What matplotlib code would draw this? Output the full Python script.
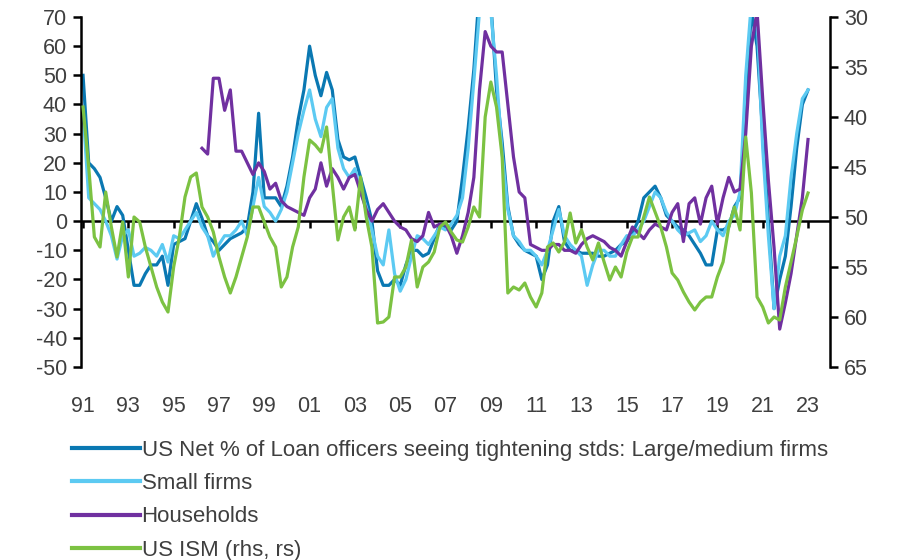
import numpy as np
import matplotlib.pyplot as plt

plt.rcParams['font.family'] = ['Liberation Sans', 'DejaVu Sans']
plt.rcParams['axes.unicode_minus'] = False

# quarterly, 1991Q1 .. 2023Q1
years = 1991 + np.arange(129) / 4

large = [50, 20, 18, 15,  8, 0, 5, 2,  -10, -22, -22, -18,  -15, -15, -12, -22,
         -8, -7, -6, 0,  6, 1, -5, -7,  -10, -8, -6, -5,  -4, -2, 10, 37,
         8, 8, 8, 5,  12, 22, 35, 45,  60, 50, 43, 51,  45, 28, 22, 21,
         22, 15, 8, 0,  -17, -22, -22, -20,  -22, -15, -10, -10,  -12, -11, -6, -1,
         -2, -3, 0, 15,  32, 52, 80, 84,  75, 45, 27, 5,  -5, -8, -10, -11,
         -12, -20, -15, 0,  5, -7, -10, -10,  -11, -11, -11, -12,  -12, -11, -10, -8,
         -7, -4, 0, 8,  10, 12, 8, 2,  0, -2, -3, -5,  -8, -11, -15, -15,
         -3, -3, -2, 5,  8, 40, 72, 60,  30, 0, -30, -20,  -12, 5, 25, 40,  45]

small = [38, 8, 6, 4,  0, -5, -13, -5,  -3, -12, -11, -9,  -10, -12, -8, -14,
         -5, -6, -3, 0,  3, -2, -5, -12,  -8, -5, -5, -3,  0, -5, 5, 15,
         5, 3, 0, 4,  10, 20, 30, 38,  45, 35, 29, 39,  42, 25, 18, 15,
         18, 10, 5, -3,  -12, -15, -3, -18,  -24, -20, -12, -5,  -6, -8, -5, -2,
         -3, -1, 2, 8,  25, 48, 72, 75,  72, 50, 23, 4,  -5, -7, -10, -10,
         -12, -15, -10, -3,  4, -5, -8, -10,  -12, -22, -15, -10,  -10, -12, -12, -8,
         -5, -5, -3, 0,  5, 10, 8, 3,  0, -3, -5, -4,  -3, -7, -5, 0,
         -3, -5, 0, 2,  10, 50, 75, 70,  25, -5, -30, -12,  -5, 15, 30, 42,  45]

# households series starts 1996Q2
households = [np.nan] * 21 + [
    25, 23, 49,  49, 38, 45, 24,  24, 20, 16, 20,  17, 11, 13, 7,  5, 4, 3, 2,
    8, 11, 20, 12,  18, 15, 11, 15,  16, 10, 4, 0,  4, 6, 3, 0,  -2, -3, -6, -7,
    -5, 3, -2, -1,  -1, -5, -11, -5,  3, 15, 45, 65,  60, 58, 58, 40,  22, 10, 8, -8,
    -9, -10, -10, -8,  -8, -10, -10, -11,  -8, -6, -5, -6,  -7, -9, -10, -12,
    -7, -2, -4, -6,  -3, -1, -2, -3,  3, 6, -7, 6,  8, -1, 8, 12,  -1, 8, 15, 10,
    11, 30, 60, 72,  42, 14, -9, -37,  -28, -18, -5, 8,  28]

ism = [39, 45, 52, 53,  47.5, 51, 54, 50.5,  56, 50, 50.5, 53,  55, 57, 58.5, 59.5,
       55, 52, 48, 46,  45.6, 49, 50, 51.5,  54, 56, 57.6, 56,  54, 52, 49, 49,
       50.5, 52, 53, 57,  56, 53, 51, 46,  42.3, 42.8, 43.5, 41,  46.6, 52.3, 50, 49,
       51.3, 46, 50, 53,  60.6, 60.5, 60, 56,  56, 55, 52.3, 57,  55, 54.5, 53.5, 51,
       50.5, 51.5, 52.3, 52.5,  51, 49, 50, 40,  36.5, 39, 44, 57.6,  57, 57.3, 56.6, 58,
       59, 57.6, 53, 52.6,  53.5, 52.5, 49.6, 52.6,  51.3, 53, 54.3, 52.6,  54.5, 56.3, 55, 56,
       53.5, 52, 52, 50,  48, 49.5, 51, 53,  55.6, 56.3, 57.5, 58.5,  59.3, 58.5, 58, 58,
       56, 54.5, 51, 49,  51.3, 42, 47.6, 58,  59, 60.6, 60, 60.3,  57, 54.5, 52, 49.3,  47.6]

tick_years = list(range(1991, 2024, 2))
tick_labels = ['%02d' % (y % 100) for y in tick_years]

labels = ['US Net % of Loan officers seeing tightening stds: Large/medium firms',
          'Small firms', 'Households', 'US ISM (rhs, rs)']
colors = ['#0a78b2', '#5ccaf2', '#7030a0', '#7cc242']
txt = '#3f3f3f'

fig = plt.figure(figsize=(8.97, 5.6), dpi=100)
ax = fig.add_axes([81/897, 1-367/560, 749/897, 350/560])
ax2 = ax.twinx()

l1, = ax.plot(years, large, color=colors[0], lw=2.3, label=labels[0])
l2, = ax.plot(years, small, color=colors[1], lw=2.3, label=labels[1])
l3, = ax.plot(years, households, color=colors[2], lw=2.3, label=labels[2])
l4, = ax2.plot(years, ism, color=colors[3], lw=2.3, label=labels[3])

ax.set_xlim(1990.91, 2023.97)
ax.set_ylim(-50, 70)
ax.set_yticks(range(-50, 71, 10))
ax2.set_ylim(65, 30)
ax2.set_yticks(range(30, 66, 5))

ax.axhline(0, color='black', lw=1.8, zorder=1)

for s in ['top', 'right', 'bottom']:
    ax.spines[s].set_visible(False)
for s in ['top', 'left', 'bottom']:
    ax2.spines[s].set_visible(False)
ax.spines['left'].set_linewidth(1.8)
ax2.spines['right'].set_linewidth(1.8)

ax.tick_params(axis='y', direction='out', length=6, width=1.8, labelsize=15.5,
               labelcolor=txt, pad=4)
ax2.tick_params(axis='y', direction='out', length=6, width=1.8, labelsize=15.5,
                labelcolor=txt, pad=4)

ax.set_xticks(tick_years)
ax.set_xticklabels(tick_labels)
ax.tick_params(axis='x', length=0, labelsize=15.5, labelcolor=txt, pad=21)

# small ticks sitting on the zero line
zx = ax.secondary_xaxis(0, transform=ax.transData)
zx.set_xticks(tick_years)
zx.set_xticklabels([])
zx.spines['bottom'].set_visible(False)
zx.tick_params(axis='x', direction='out', length=5, width=1.8, color='black')

fig.legend([l1, l2, l3, l4], labels, loc='upper left',
           bbox_to_anchor=(72/897, 1-440/560), frameon=False,
           prop={'size': 16}, labelcolor=txt, handlelength=3.05, handletextpad=0.08,
           labelspacing=0.55, borderpad=0, borderaxespad=0)
for h in fig.legends[0].get_lines():
    h.set_linewidth(3)

fig.savefig('out.png', dpi=100)
